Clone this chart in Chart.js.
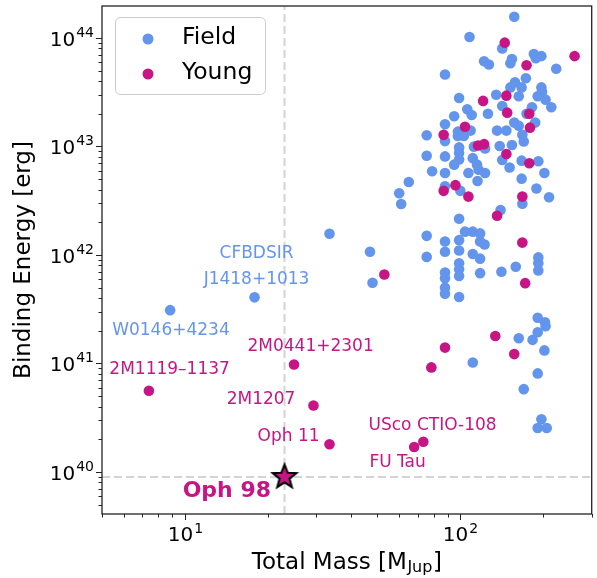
<!DOCTYPE html>
<html>
<head>
<meta charset="utf-8">
<script src="https://cdn.jsdelivr.net/npm/chart.js@4.4.0/dist/chart.umd.min.js"></script>
<style>
  html, body { margin: 0; padding: 0; background: #fff; }
  #wrap { width: 597px; height: 578px; }
</style>
</head>
<body>
<div id="wrap"><canvas id="chart" width="597" height="578"></canvas></div>
<script>
// total mass [M_Jup] and binding energy [erg]
const fieldMass = [157,108,142,122,127,154,152,185,197,188,
  223,88,173,158,152,167,163,197,198,191,
  204,214,99,135,142,106,110,126,182,174,
  187,95,88,75.5,88,98,98,103,109,136,
  147,157,163,168,170,154,139,123,112,99,
  99,75.5,88,99,111,95,115,142,116.5,123,
  151,167,192,202,79,88,107,115.5,167,65,
  88,100,60,61,189,210,168,140,99,33.5,
  75.5,104,111,118,118,122.5,88,99,47,88,
  99,75.5,111,118,192,192,192,159,141,118,
  99,99,99,88,88,88,48,88,99,191,
  203,204,191,163,183,202,111,191,170,197,
  191,206,8.84,17.9];
const fieldEnergy = [1.57e44,1.02e44,8.0e43,6.1e43,5.7e43,6.4e43,5.85e43,7.1e43,6.8e43,6.5e43,
  5.2e43,4.6e43,4.25e43,3.9e43,3.5e43,3.5e43,2.9e43,3.5e43,3.2e43,2.9e43,
  2.7e43,2.3e43,2.8e43,3.0e43,2.36e43,2.2e43,1.95e43,2.0e43,2.3e43,2.0e43,
  1.66e43,1.9e43,1.6e43,1.27e43,1.12e43,1.37e43,1.25e43,1.25e43,1.4e43,1.4e43,
  1.4e43,1.66e43,1.55e43,1.28e43,1.11e43,1.03e43,1.01e43,9.6e42,9.96e42,9.8e42,
  8.7e42,8.2e42,8.1e42,7.6e42,7.8e42,6.8e42,6.8e42,7.5e42,6.1e42,5.7e42,
  6.4e42,7.4e42,7.3e42,5.7e42,5.9e42,5.7e42,5.7e42,4.8e42,5.05e42,4.7e42,
  4.3e42,3.9e42,3.7e42,2.95e42,4.1e42,3.4e42,2.97e42,2.6e42,2.16e42,1.57e42,
  1.5e42,1.64e42,1.64e42,1.58e42,1.33e42,1.25e42,1.33e42,1.37e42,1.07e42,1.07e42,
  1.1e42,9.6e41,1.02e42,9.25e41,9.5e41,8.4e41,7.2e41,7.8e41,7.0e41,6.8e41,
  8.4e41,7.4e41,6.4e41,6.9e41,6.1e41,5.0e41,5.55e41,4.4e41,4.1e41,2.64e41,
  2.4e41,2.2e41,1.94e41,1.71e41,1.65e41,1.32e41,1.02e41,8.1e40,5.8e40,3.06e40,
  2.54e40,2.54e40,3.1e41,4.07e41];

const youngMass = [145,174,260,121,147,148,178,179,104,87,
  116,122,147,178,96,87,107,168,136,168,
  53,172,134,88,78.5,157,29.3,33.5,68,73.4,
  7.4,24.9];
const youngEnergy = [9.05e43,5.6e43,6.8e43,2.63e43,2.94e43,2.05e43,2.0e43,1.49e43,1.52e43,1.28e43,
  1.02e43,1.05e43,8.5e42,7.0e42,4.4e42,3.9e42,3.45e42,3.45e42,2.3e42,1.3e42,
  6.6e41,5.5e41,1.79e41,1.4e41,9.2e40,1.22e41,4.1e40,1.8e40,1.7e40,1.9e40,
  5.6e40,9.8e40];

const ophMass = 23;
const ophEnergy = 9e39;

const labelTexts = ['CFBDSIR','J1418+1013','W0146+4234','2M1119\u20131137','2M0441+2301',
  '2M1207','Oph 11','USco CTIO-108','FU Tau','Oph 98'];
const labelMass = [18.2,18.2,8.9,8.8,28.6,18.9,23.8,79.3,59.2,14.2];
const labelEnergy = [1.04e42,5.9e41,2.0e41,8.7e40,1.42e41,4.6e40,2.1e40,2.7e40,1.21e40,6.7e39];
const labelGroup = ['field','field','field','young','young','young','young','young','young','young'];

const xMin = 5, xMax = 300, yMin = 4.1e39, yMax = 1.97e44;

const BLUE = '#6495ED';
const MAGENTA = '#C71585';
const FONT = '"DejaVu Sans", sans-serif';

const toPts = (xs, ys) => xs.map((x, i) => ({ x: x, y: ys[i] }));

// filled star marker
function makeStar() {
  const c = document.createElement('canvas');
  c.width = 30; c.height = 30;
  const g = c.getContext('2d');
  g.beginPath();
  for (let i = 0; i < 10; i++) {
    const r = i % 2 === 0 ? 12.5 : 5.3;
    const a = -Math.PI / 2 + i * Math.PI / 5;
    g.lineTo(15 + r * Math.cos(a), 15 + r * Math.sin(a));
  }
  g.closePath();
  g.fillStyle = MAGENTA;
  g.fill();
  g.lineWidth = 2;
  g.lineJoin = 'miter';
  g.strokeStyle = '#000';
  g.stroke();
  return c;
}

function drawPow(ctx, exp, x, y, align) {
  ctx.font = '20px ' + FONT;
  const wb = ctx.measureText('10').width;
  ctx.font = '14px ' + FONT;
  const we = ctx.measureText(exp).width;
  const w = wb + we + 1;
  const x0 = align === 'right' ? x - w : x - w / 2;
  ctx.textAlign = 'left';
  ctx.textBaseline = 'middle';
  ctx.fillStyle = '#000';
  ctx.font = '20px ' + FONT;
  ctx.fillText('10', x0, y + 2);
  ctx.font = '14px ' + FONT;
  ctx.fillText(exp, x0 + wb + 1, y - 5);
}

const decor = {
  id: 'decor',
  afterDraw(chart) {
    const ctx = chart.ctx;
    const a = chart.chartArea;
    const xs = chart.scales.x, ys = chart.scales.y;
    ctx.save();

    // frame
    ctx.strokeStyle = '#222';
    ctx.lineWidth = 1.3;
    ctx.strokeRect(a.left, a.top, a.right - a.left, a.bottom - a.top);

    // ticks
    ctx.lineWidth = 1;
    ctx.strokeStyle = '#222';
    for (let e = 0; e <= 2; e++) {
      for (let k = 1; k <= 9; k++) {
        const v = k * Math.pow(10, e);
        if (v < xMin || v > xMax) continue;
        const px = Math.round(xs.getPixelForValue(v)) + 0.5;
        const len = k === 1 ? 6 : 3.5;
        ctx.beginPath(); ctx.moveTo(px, a.bottom); ctx.lineTo(px, a.bottom + len); ctx.stroke();
        if (k === 1) drawPow(ctx, String(e), px, a.bottom + 20, 'center');
      }
    }
    for (let e = 39; e <= 44; e++) {
      for (let k = 1; k <= 9; k++) {
        const v = k * Math.pow(10, e);
        if (v < yMin || v > yMax) continue;
        const py = Math.round(ys.getPixelForValue(v)) + 0.5;
        const len = k === 1 ? 6 : 3.5;
        ctx.beginPath(); ctx.moveTo(a.left, py); ctx.lineTo(a.left - len, py); ctx.stroke();
        if (k === 1) drawPow(ctx, String(e), a.left - 8, py, 'right');
      }
    }

    // axis titles
    ctx.fillStyle = '#000';
    ctx.textBaseline = 'middle';
    ctx.font = '23px ' + FONT;
    const t1 = 'Total Mass [M', t2 = 'Jup', t3 = ']';
    const w1 = ctx.measureText(t1).width;
    const w3 = ctx.measureText(t3).width;
    ctx.font = '16px ' + FONT;
    const w2 = ctx.measureText(t2).width;
    let tx = (a.left + a.right) / 2 - (w1 + w2 + w3 + 1) / 2;
    const ty = 563;
    ctx.textAlign = 'left';
    ctx.font = '23px ' + FONT;
    ctx.fillText(t1, tx, ty);
    ctx.font = '16px ' + FONT;
    ctx.fillText(t2, tx + w1 + 0.5, ty + 5);
    ctx.font = '23px ' + FONT;
    ctx.fillText(t3, tx + w1 + w2 + 1, ty);

    ctx.save();
    ctx.translate(24, (a.top + a.bottom) / 2);
    ctx.rotate(-Math.PI / 2);
    ctx.textAlign = 'center';
    ctx.fillText('Binding Energy [erg]', 0, 0);
    ctx.restore();

    // object labels
    ctx.textAlign = 'center';
    ctx.textBaseline = 'middle';
    labelTexts.forEach((t, i) => {
      ctx.fillStyle = labelGroup[i] === 'field' ? BLUE : MAGENTA;
      ctx.font = (t === 'Oph 98' ? 'bold 22px ' : '17px ') + FONT;
      ctx.fillText(t, xs.getPixelForValue(labelMass[i]), ys.getPixelForValue(labelEnergy[i]));
    });

    // legend
    ctx.beginPath();
    ctx.roundRect(115.5, 17.5, 150, 77, 5);
    ctx.fillStyle = 'rgba(255,255,255,0.8)';
    ctx.fill();
    ctx.strokeStyle = '#cccccc';
    ctx.lineWidth = 1;
    ctx.stroke();
    [['Field', BLUE, 39], ['Young', MAGENTA, 74]].forEach(([t, c, y]) => {
      ctx.beginPath();
      ctx.arc(148, y, 5.5, 0, Math.PI * 2);
      ctx.fillStyle = c;
      ctx.fill();
      ctx.fillStyle = '#000';
      ctx.font = '23.5px ' + FONT;
      ctx.textAlign = 'left';
      ctx.fillText(t, 182, y - 1);
    });

    ctx.restore();
  }
};

new Chart(document.getElementById('chart'), {
  type: 'scatter',
  data: {
    datasets: [
      {
        label: 'Oph 98',
        data: [{ x: ophMass, y: ophEnergy }],
        pointStyle: makeStar(),
        order: 1
      },
      {
        label: 'Young',
        data: toPts(youngMass, youngEnergy),
        backgroundColor: MAGENTA,
        borderWidth: 0,
        pointRadius: 5.3,
        order: 2
      },
      {
        label: 'Field',
        data: toPts(fieldMass, fieldEnergy),
        backgroundColor: BLUE,
        borderWidth: 0,
        pointRadius: 5.3,
        order: 3
      },
      {
        type: 'line',
        label: 'mass line',
        data: [{ x: ophMass, y: yMin }, { x: ophMass, y: yMax }],
        borderColor: '#d3d3d3',
        borderWidth: 2,
        borderDash: [8, 4],
        pointRadius: 0,
        order: 10
      },
      {
        type: 'line',
        label: 'energy line',
        data: [{ x: xMin, y: ophEnergy }, { x: xMax, y: ophEnergy }],
        borderColor: '#d3d3d3',
        borderWidth: 2,
        borderDash: [8, 4],
        pointRadius: 0,
        order: 10
      }
    ]
  },
  options: {
    responsive: false,
    animation: false,
    layout: { padding: { left: 102, top: 6, right: 4, bottom: 64 } },
    scales: {
      x: { type: 'logarithmic', min: xMin, max: xMax, display: false },
      y: { type: 'logarithmic', min: yMin, max: yMax, display: false }
    },
    plugins: {
      legend: { display: false },
      tooltip: { enabled: false }
    }
  },
  plugins: [decor]
});
</script>
</body>
</html>
